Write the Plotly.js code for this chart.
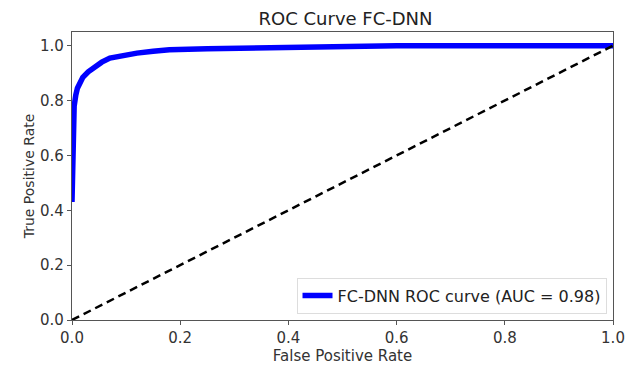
<!DOCTYPE html>
<html><head><meta charset="utf-8">
<script src="https://cdn.plot.ly/plotly-3.0.1.min.js"></script>
<style>html,body{margin:0;padding:0;background:#fff}#chart{width:626px;height:366px}</style>
</head><body><div id="chart"></div>
<script>
const fpr = [0, 0.001, 0.002, 0.004, 0.007, 0.010, 0.015, 0.020, 0.030, 0.040, 0.055, 0.070, 0.090, 0.120, 0.150, 0.180, 0.250, 0.300, 0.350, 0.400, 0.450, 0.600, 0.800, 1.0];
const tpr = [0.43, 0.60, 0.72, 0.78, 0.82, 0.845, 0.865, 0.885, 0.905, 0.920, 0.940, 0.955, 0.963, 0.973, 0.980, 0.985, 0.989, 0.991, 0.993, 0.996, 0.999, 1.0, 1.0, 1.0];
const chanceX = [0, 1];
const chanceY = [0, 1];
const tickVals = [0, 0.2, 0.4, 0.6, 0.8, 1.0];
const tickText = ['0.0', '0.2', '0.4', '0.6', '0.8', '1.0'];
const legendName = 'FC-DNN ROC curve (AUC = 0.98)';

const font = 'DejaVu Sans, sans-serif';
const traces = [
  {x: fpr, y: tpr, mode: 'lines', name: legendName, line: {color: '#0000ff', width: 5.5}},
  {x: chanceX, y: chanceY, mode: 'lines', showlegend: false, line: {color: '#000', width: 2.5, dash: '8px,5px'}}
];
const axisCommon = {
  showgrid: false, zeroline: false, showline: true, mirror: true, linecolor: '#555', linewidth: 1.2,
  ticks: 'outside', ticklen: 4, tickcolor: '#555', tickfont: {family: font, size: 15, color: '#333'},
  tickvals: tickVals, ticktext: tickText
};
const layout = {
  width: 626, height: 366,
  margin: {l: 72, r: 13, t: 32, b: 46},
  paper_bgcolor: '#fff', plot_bgcolor: '#fff',
  title: {text: 'ROC Curve FC-DNN', font: {family: font, size: 18, color: '#222'}, x: 0.552, xanchor: 'center', y: 0.95, yanchor: 'middle'},
  xaxis: Object.assign({}, axisCommon, {range: [0, 1],
    title: {text: 'False Positive Rate', font: {family: font, size: 15, color: '#333'}, standoff: 2}}),
  yaxis: Object.assign({}, axisCommon, {range: [0, 1.05],
    title: {text: 'True Positive Rate', font: {family: font, size: 14, color: '#333'}, standoff: 2}}),
  legend: {x: 0.988, y: 0.022, xanchor: 'right', yanchor: 'bottom', bgcolor: '#fff', bordercolor: '#ddd', borderwidth: 1,
    font: {family: font, size: 16, color: '#222'}, itemwidth: 30},
  showlegend: true
};
Plotly.newPlot('chart', traces, layout, {displayModeBar: false, staticPlot: true});
</script></body></html>
